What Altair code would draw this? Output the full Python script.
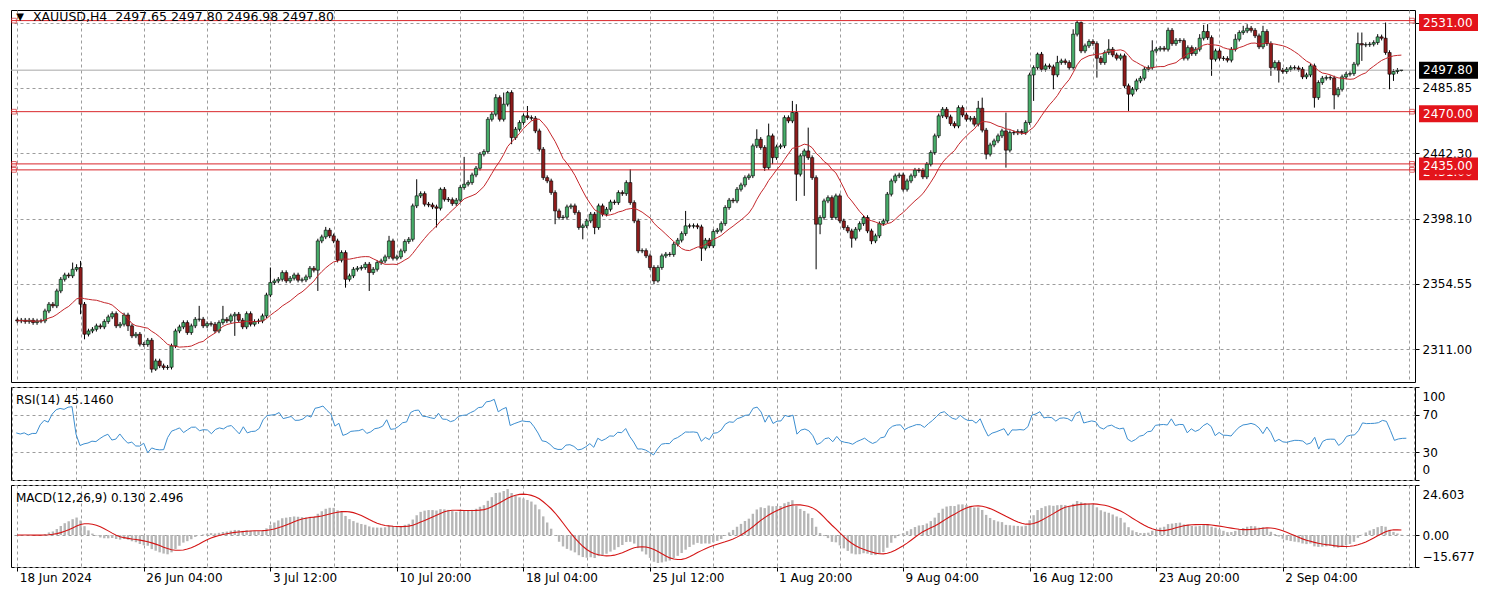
import altair as alt
import pandas as pd
import numpy as np

FONT = "DejaVu Sans"
GRID = "#9c9c9c"
RED = "#e3141b"
LINE_RED = "#d9262b"

# ---------------- data (XAUUSD H4 closes) ----------------
close_18jun_28jun = [2329.8, 2330.3, 2329.4, 2330.3, 2328.7, 2329.8, 2329.8, 2336.5, 2341.0, 2339.9,
    2349.9, 2357.7, 2360.6, 2360.0, 2364.4, 2365.6, 2341.0, 2320.9, 2323.1, 2324.2,
    2326.5, 2325.8, 2329.4, 2332.5, 2334.7, 2326.5, 2327.6, 2333.8, 2326.5, 2319.8,
    2320.9, 2314.2, 2314.0, 2316.9, 2297.5, 2303.0, 2299.7, 2298.6, 2298.8, 2313.1,
    2323.1, 2325.8, 2328.7, 2322.0, 2326.5, 2330.9, 2331.0, 2326.5, 2328.0, 2327.6,
    2323.1, 2328.7, 2330.9, 2329.8, 2333.2, 2334.3, 2330.3, 2325.8, 2334.7]
close_28jun_12jul = [2327.6, 2329.4, 2329.8, 2333.2, 2347.2, 2355.5, 2356.6, 2357.7, 2362.2, 2356.6,
    2358.4, 2360.6, 2357.1, 2357.3, 2359.3, 2365.1, 2363.8, 2383.4, 2386.1, 2390.6,
    2386.8, 2383.4, 2370.5, 2375.6, 2357.7, 2360.0, 2364.4, 2365.1, 2365.6, 2367.8,
    2362.2, 2364.4, 2368.9, 2370.0, 2372.7, 2383.4, 2371.8, 2372.7, 2376.7, 2383.0,
    2384.5, 2406.9, 2413.6, 2415.1, 2408.0, 2407.5, 2406.2, 2405.3, 2418.0, 2411.3,
    2411.0, 2408.4, 2410.7, 2419.2, 2421.4, 2422.5, 2427.6, 2432.1, 2441.5]
close_12jul_26jul = [2443.3, 2464.9, 2468.3, 2479.4, 2464.9, 2475.0, 2482.8, 2452.6, 2458.2, 2462.7,
    2467.2, 2466.0, 2465.6, 2457.1, 2444.8, 2425.8, 2423.6, 2415.8, 2403.5, 2399.1,
    2399.3, 2406.2, 2406.9, 2402.4, 2392.4, 2393.5, 2396.8, 2401.3, 2392.4, 2406.9,
    2401.3, 2404.6, 2409.5, 2409.1, 2415.8, 2415.1, 2422.5, 2409.1, 2396.8, 2376.7,
    2376.9, 2373.4, 2365.6, 2356.6, 2365.6, 2373.4, 2374.5, 2374.3, 2381.2, 2383.9,
    2388.3, 2393.5, 2393.3, 2393.6, 2392.8, 2378.5, 2383.9, 2380.1, 2389.7]
close_26jul_12aug = [2390.6, 2395.0, 2405.8, 2410.7, 2410.2, 2418.0, 2420.9, 2425.8, 2427.0, 2447.1,
    2451.5, 2446.0, 2432.5, 2453.8, 2439.2, 2446.4, 2447.1, 2466.0, 2463.8, 2469.4,
    2428.1, 2440.4, 2443.7, 2439.2, 2425.8, 2394.6, 2399.1, 2410.2, 2412.4, 2399.1,
    2413.6, 2396.8, 2392.4, 2390.1, 2385.2, 2391.2, 2395.0, 2399.1, 2390.1, 2383.4,
    2386.8, 2395.0, 2396.8, 2414.7, 2423.6, 2427.0, 2427.6, 2418.0, 2423.6, 2427.0,
    2430.8, 2430.6, 2426.3, 2434.8, 2442.6, 2453.8, 2467.2, 2471.6]
close_12aug_26aug = [2466.5, 2462.0, 2460.4, 2472.7, 2467.8, 2464.9, 2465.6, 2461.6, 2472.3, 2457.6,
    2441.5, 2447.7, 2450.4, 2453.8, 2457.1, 2444.2, 2456.0, 2455.8, 2456.7, 2456.0,
    2462.7, 2494.6, 2499.5, 2508.5, 2498.4, 2500.7, 2500.0, 2494.6, 2502.9, 2504.0,
    2502.9, 2499.5, 2521.9, 2529.7, 2510.7, 2514.1, 2517.0, 2515.6, 2505.8, 2502.9,
    2509.6, 2511.8, 2508.0, 2505.8, 2507.4, 2487.3, 2481.7, 2485.0, 2490.6, 2492.4,
    2498.4, 2499.5, 2510.7, 2511.8, 2512.5, 2511.8, 2524.5, 2515.6, 2517.8]
close_26aug_9sep = [2517.6, 2505.8, 2512.9, 2508.9, 2511.8, 2519.2, 2523.7, 2519.6, 2505.1, 2510.7,
    2505.8, 2505.6, 2504.5, 2511.8, 2518.5, 2523.0, 2524.1, 2525.9, 2524.5, 2520.8,
    2513.4, 2523.7, 2515.6, 2499.5, 2502.9, 2497.8, 2496.9, 2498.4, 2499.5, 2499.3,
    2498.4, 2493.3, 2494.6, 2500.7, 2479.4, 2489.5, 2492.4, 2492.8, 2492.6, 2481.2,
    2485.0, 2493.3, 2495.1, 2495.5, 2501.8, 2515.6, 2514.7, 2514.9, 2515.2, 2516.3,
    2520.1, 2519.2, 2509.6, 2495.1, 2496.9, 2497.65, 2497.80]
first_open = 2330.5
default_wick = 1.5

# long wicks: bar index -> price
wick_high = {14: 2368.9, 15: 2367.8, 16: 2370.0, 46: 2339.9, 52: 2339.9, 64: 2365.6, 78: 2392.8,
    94: 2386.8, 101: 2424.7, 107: 2419.2, 113: 2439.7, 121: 2481.7, 123: 2482.8, 124: 2483.9,
    129: 2473.8, 155: 2431.4, 169: 2403.5, 187: 2458.2, 190: 2462.0, 196: 2477.2, 197: 2475.0,
    200: 2459.3, 243: 2477.2, 244: 2479.4, 250: 2469.4, 258: 2509.6, 263: 2507.4, 267: 2525.2,
    268: 2531.2, 269: 2530.4, 276: 2518.5, 287: 2517.8, 291: 2526.3, 299: 2521.9, 300: 2528.1,
    301: 2528.6, 308: 2521.9, 310: 2527.5, 311: 2528.6, 315: 2527.5, 316: 2525.2, 339: 2523.0,
    340: 2523.0, 344: 2521.9, 346: 2529.7, 350: 2497.80}
wick_low = {16: 2334.3, 17: 2317.5, 28: 2323.1, 34: 2295.2, 35: 2296.3, 55: 2319.8, 76: 2349.9,
    83: 2352.1, 89: 2349.9, 106: 2392.4, 125: 2448.2, 136: 2394.6, 143: 2384.5, 146: 2387.9,
    161: 2354.4, 162: 2355.5, 173: 2370.0, 189: 2430.3, 191: 2434.8, 197: 2410.2, 199: 2413.6,
    202: 2364.4, 203: 2387.9, 211: 2378.9, 216: 2381.2, 245: 2438.1, 250: 2432.5, 257: 2477.2,
    262: 2485.0, 273: 2492.8, 281: 2470.5, 302: 2494.0, 317: 2494.0, 319: 2489.5, 328: 2472.7,
    333: 2471.6, 340: 2504.0, 347: 2485.0, 348: 2490.6, 350: 2496.98}

red_levels = [2531.00, 2470.00, 2431.00, 2435.00]
red_labels = ["2531.00", "2470.00", "2431.00", "2435.00"]
bid_level = 2497.80
bid_label = "2497.80"
price_ticks = [2311.00, 2354.55, 2398.10, 2442.30, 2485.85, 2529.40]
rsi_ticks = [0, 30, 70, 100]
macd_ticks = [-15.677, 0.0, 24.603]
time_labels = ["18 Jun 2024", "26 Jun 04:00", "3 Jul 12:00", "10 Jul 20:00", "18 Jul 04:00",
               "25 Jul 12:00", "1 Aug 20:00", "9 Aug 04:00", "16 Aug 12:00", "23 Aug 20:00",
               "2 Sep 04:00"]
title_main = "XAUUSD,H4\u00a0 2497.65 2497.80 2496.98 2497.80"
title_rsi = "RSI(14) 45.1460"
title_macd = "MACD(12,26,9) 0.130 2.496"

# ---------------- build table ----------------
closes = (close_18jun_28jun + close_28jun_12jul + close_12jul_26jul +
          close_26jul_12aug + close_12aug_26aug + close_26aug_9sep)
n = len(closes)
opens = [first_open] + closes[:-1]
highs, lows = [], []
for i in range(n):
    top, bot = max(opens[i], closes[i]), min(opens[i], closes[i])
    highs.append(max(wick_high.get(i, top + default_wick), top))
    lows.append(min(wick_low.get(i, bot - default_wick), bot))

c = np.array(closes)
ma = pd.Series(c).rolling(14, min_periods=1).mean()
# RSI(14), Wilder smoothing
d = np.diff(c)
ag = al = float(np.mean(np.abs(d[:14]))) / 2
rsi = [None]
for x in d:
    ag = (ag * 13 + max(x, 0)) / 14
    al = (al * 13 + max(-x, 0)) / 14
    rsi.append(100 * ag / (ag + al))
ema12 = pd.Series(c).ewm(span=12, adjust=False).mean()
ema26 = pd.Series(c).ewm(span=26, adjust=False).mean()
macd = ema12 - ema26
signal = macd.rolling(9, min_periods=1).mean()

df = pd.DataFrame({
    "i": np.arange(n), "open": opens, "close": closes, "high": highs, "low": lows,
    "ma": ma, "rsi": rsi, "macd": macd, "signal": signal,
})
df["body"] = np.where(df["close"] >= df["open"], "#47ad69", "#8e1b1b")

W = 1404
H_MAIN, H_RSI, H_MACD = 372, 93, 82
X_DOM = [-0.325, 352.175]
P_DOM = [2288.9, 2538.1]
grid_vals = list(range(0, 353, 16))

xscale = alt.Scale(domain=X_DOM, nice=False, zero=False)
x_axis_plain = alt.Axis(values=grid_vals, grid=True, gridColor=GRID, gridDash=[3, 3],
                        labels=False, ticks=False, domain=False, title=None)
lab_arr = "[" + ",".join("'" + s + "'" for s in time_labels) + "]"
show_test = "(datum.value % 32 === 0 && datum.value <= 320)"
x_axis_bottom = alt.Axis(
    values=grid_vals, grid=True, gridColor=GRID, gridDash=[3, 3], domain=False, title=None,
    tickSize=4, tickColor="black",
    tickOpacity={"condition": {"test": show_test, "value": 1}, "value": 0},
    labelExpr=show_test + " ? " + lab_arr + "[datum.value / 32] : ''",
    labelAlign="left", labelOffset=2, labelPadding=1, labelFlush=False, labelOverlap=False,
    labelFont=FONT, labelFontSize=12, labelColor="black")


def X(field, axis):
    return alt.X(field, type="quantitative", scale=xscale, axis=axis)


pscale = alt.Scale(domain=P_DOM, nice=False, zero=False)
p_axis = alt.Axis(orient="right", values=price_ticks, format=".2f", grid=True, gridColor=GRID,
                  gridDash=[3, 3], tickSize=4, tickColor="black", labelPadding=3, domain=False,
                  title=None, labelFlush=False, labelFont=FONT, labelFontSize=12, labelColor="black")


def P(field):
    return alt.Y(field, type="quantitative", scale=pscale, axis=p_axis)


base = alt.Chart(df)
wicks = base.mark_rule(color="black", strokeWidth=1).encode(
    x=X("i", x_axis_plain), y=P("low"), y2="high")
bodies = base.mark_bar(size=3.2, stroke="black", strokeWidth=0.6).encode(
    x=X("i", x_axis_plain), y=P("open"), y2="close", fill=alt.Fill("body:N", scale=None))
ma_line = base.mark_line(color="#c4262b", strokeWidth=1).encode(x=X("i", x_axis_plain), y=P("ma"))

lv = pd.DataFrame({"level": red_levels, "label": red_labels})
bid = pd.DataFrame({"level": [bid_level], "label": [bid_label]})
red_rules = alt.Chart(lv).mark_rule(color=LINE_RED, strokeWidth=1).encode(y=P("level"))
bid_rule = alt.Chart(bid).mark_rule(color="#a8a8a8", strokeWidth=1).encode(y=P("level"))
hl = alt.Chart(lv).mark_point(shape="square", filled=False, size=22, color=LINE_RED, strokeWidth=1)
handles_l = hl.encode(x=alt.value(3), y=P("level"))
handles_r = hl.encode(x=alt.value(W - 3), y=P("level"))
BOX = "M-1,-0.288L1,-0.288L1,0.288L-1,0.288Z"


def price_tag(frame, fill, dy):
    box = alt.Chart(frame).mark_point(shape=BOX, size=59 * 59, filled=True, opacity=1,
                                      color=fill, strokeWidth=0, yOffset=dy).encode(
        x=alt.value(W + 33.5), y=P("level"))
    txt = alt.Chart(frame).mark_text(align="left", baseline="middle", color="white", font=FONT,
                                     fontSize=12, yOffset=dy).encode(
        x=alt.value(W + 8), y=P("level"), text="label:N")
    return [box, txt]


tags = []
for lvl, lab in zip(red_levels, red_labels):
    tags += price_tag(pd.DataFrame({"level": [lvl], "label": [lab]}), RED, 2)
tags += price_tag(bid, "black", 0)

tdf = pd.DataFrame({"t": [title_main], "tri": ["\u25bc"]})
tri = alt.Chart(tdf).mark_text(align="center", baseline="middle", fontSize=10, color="black",
                               font=FONT).encode(x=alt.value(9), y=alt.value(6.5), text="tri:N")
ttl = alt.Chart(tdf).mark_text(align="left", baseline="middle", fontSize=12.5, color="black",
                               font=FONT).encode(x=alt.value(22), y=alt.value(6.5), text="t:N")

main = alt.layer(wicks, red_rules, bid_rule, bodies, ma_line, handles_l, handles_r,
                 *tags, tri, ttl).properties(width=W, height=H_MAIN)

# RSI panel
rsi_y = alt.Y("rsi", type="quantitative", scale=alt.Scale(domain=[0, 100], nice=False),
              axis=alt.Axis(orient="right", values=rsi_ticks, grid=True, gridColor=GRID,
                            gridDash=[3, 3], tickSize=4, tickColor="black", labelPadding=3,
                            domain=False, title=None, labelFlush=True, labelFlushOffset=-4,
                            labelFont=FONT, labelFontSize=12, labelColor="black"))
rsi_line = base.mark_line(color="#3c8ed0", strokeWidth=1).encode(x=X("i", x_axis_plain), y=rsi_y)
rsi_t = alt.Chart(pd.DataFrame({"t": [title_rsi]})).mark_text(
    align="left", baseline="middle", fontSize=12, color="black", font=FONT).encode(
    x=alt.value(5), y=alt.value(13), text="t:N")
rsi_panel = alt.layer(rsi_line, rsi_t).properties(width=W, height=H_RSI)

# MACD panel
macd_axis = alt.Axis(orient="right", values=macd_ticks, grid=True, gridColor=GRID, gridDash=[3, 3],
                     tickSize=4, tickColor="black", labelPadding=3, domain=False, title=None,
                     labelFlush=True, labelFlushOffset=-4,
                     labelExpr="datum.value === 0 ? '0.00' : format(datum.value, '.3f')",
                     labelFont=FONT, labelFontSize=12, labelColor="black")
mscale = alt.Scale(domain=[macd_ticks[0], macd_ticks[-1]], nice=False, zero=False)
hist = base.mark_bar(size=2.4, color="#b6b6b6", clip=True).encode(
    x=X("i", x_axis_bottom), y=alt.Y("macd", type="quantitative", scale=mscale, axis=macd_axis),
    y2=alt.datum(0))
sig = base.mark_line(color="#d41515", strokeWidth=1.1, clip=True).encode(
    x=X("i", x_axis_bottom), y=alt.Y("signal", type="quantitative", scale=mscale, axis=macd_axis))
macd_t = alt.Chart(pd.DataFrame({"t": [title_macd]})).mark_text(
    align="left", baseline="middle", fontSize=12, color="black", font=FONT).encode(
    x=alt.value(5), y=alt.value(13), text="t:N")
macd_panel = alt.layer(hist, sig, macd_t).properties(width=W, height=H_MACD)

chart = alt.vconcat(main, rsi_panel, macd_panel, spacing=3).properties(
    padding={"left": 1, "top": 1, "right": 5, "bottom": 5}, background="white"
).configure_view(stroke="black", strokeWidth=1).configure_axis(labelFont=FONT)

chart.save("out.html", embed_options={"renderer": "svg", "actions": False})
